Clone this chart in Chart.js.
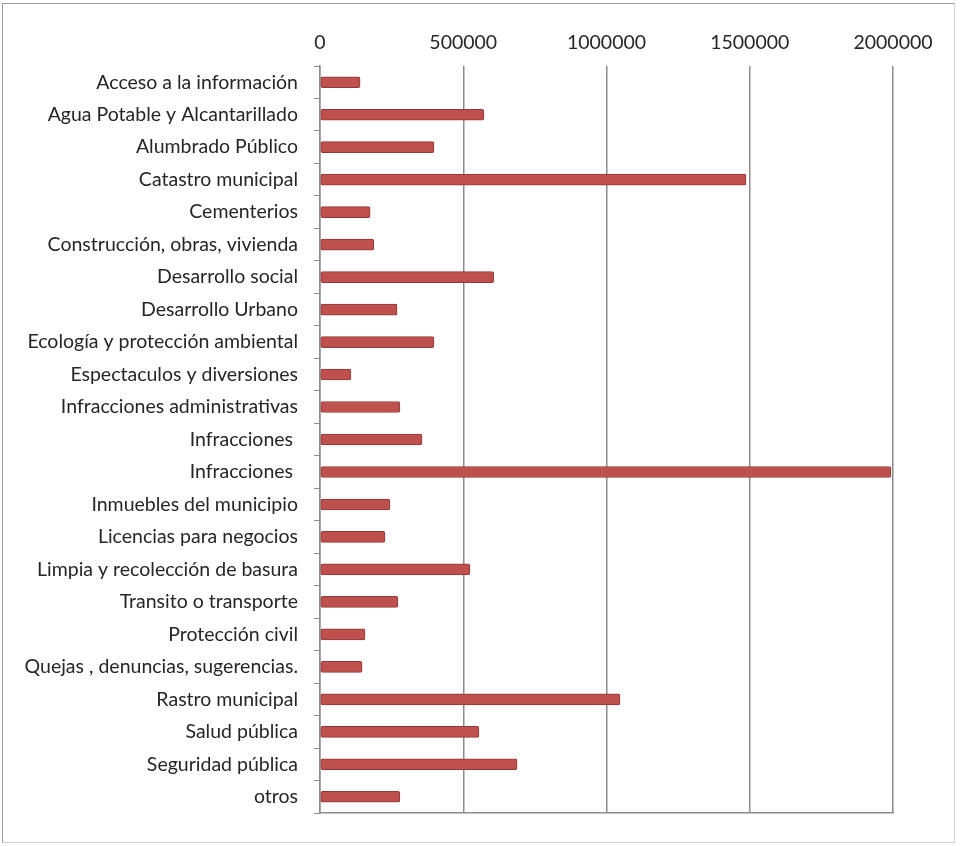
<!DOCTYPE html>
<html>
<head>
<meta charset="utf-8">
<script src="https://cdn.jsdelivr.net/npm/chart.js@4/dist/chart.umd.min.js"></script>
<style>
  html, body { margin: 0; padding: 0; background: #fff; }
  #wrap { position: relative; width: 963px; height: 846px; }
  #frame { position: absolute; left: 2px; top: 3px; width: 953px; height: 840px; border: 1px solid #9a9a9a; border-right-color: #d0d0d0; border-bottom-color: #d0d0d0; box-sizing: border-box; }
  canvas { position: absolute; left: 0; top: 0; }
</style>
</head>
<body>
<div id="wrap">
  <div id="frame"></div>
  <canvas id="chart" width="963" height="846"></canvas>
</div>
<script>
"use strict";

const categories = [
  "Acceso a la información",
  "Agua Potable y Alcantarillado",
  "Alumbrado Público",
  "Catastro municipal",
  "Cementerios",
  "Construcción, obras, vivienda",
  "Desarrollo social",
  "Desarrollo Urbano",
  "Ecología y protección ambiental",
  "Espectaculos y diversiones",
  "Infracciones administrativas",
  "Infracciones ",
  "Infracciones ",
  "Inmuebles del municipio",
  "Licencias para negocios",
  "Limpia y recolección de basura",
  "Transito o transporte",
  "Protección civil",
  "Quejas , denuncias, sugerencias.",
  "Rastro municipal",
  "Salud pública",
  "Seguridad pública",
  "otros"
];

const values = [
  140000, 572000, 398000, 1487000, 175000, 188000, 607000, 269000,
  398000, 108000, 279000, 356000, 1993000, 244000, 227000, 523000,
  272000, 157000, 147000, 1047000, 555000, 688000, 279000
];

const xTicks = [0, 500000, 1000000, 1500000, 2000000];

const gridGray = "#8c8c8c";
const labelFont = { family: "Lato", size: 19.5 };

const config = {
  type: "bar",
  data: {
    labels: categories,
    datasets: [
      {
        data: values,
        backgroundColor: "#c0504d",
        borderColor: "#8e3a38",
        borderWidth: 1,
        borderRadius: 2,
        borderSkipped: false,
        barThickness: 11,
        xAxisID: "x",
      },
    ],
  },
  options: {
    indexAxis: "y",
    responsive: false,
    animation: false,
    layout: {
      padding: { left: 0, right: 70, top: 0, bottom: 33 },
    },
    plugins: {
      legend: { display: false },
      tooltip: { enabled: false },
    },
    scales: {
      x: {
        position: "top",
        min: 0,
        max: 2000000,
        afterFit: function (scale) {
          scale.height = 66;
        },
        afterBuildTicks: function (scale) {
          scale.ticks = xTicks.map((v) => ({ value: v }));
        },
        border: { display: false },
        grid: {
          color: gridGray,
          lineWidth: 1.5,
          tickLength: 0,
        },
        ticks: {
          padding: 12,
          color: "#262626",
          font: labelFont,
          callback: function (value) {
            return String(value);
          },
        },
      },
      x2: {
        position: "bottom",
        min: 0,
        max: 2000000,
        afterFit: function (scale) {
          scale.height = 0;
        },
        border: { display: true, color: gridGray, width: 1.5 },
        grid: { display: false },
        ticks: { display: false },
      },
      y: {
        afterFit: function (scale) {
          scale.width = 320;
        },
        border: { display: true, color: gridGray, width: 1.5 },
        grid: {
          offset: true,
          drawOnChartArea: false,
          color: gridGray,
          tickLength: 6,
        },
        ticks: {
          padding: 16,
          color: "#262626",
          autoSkip: false,
          font: labelFont,
        },
      },
    },
  },
};

const myChart = new Chart(document.getElementById("chart"), config);
</script>
</body>
</html>
